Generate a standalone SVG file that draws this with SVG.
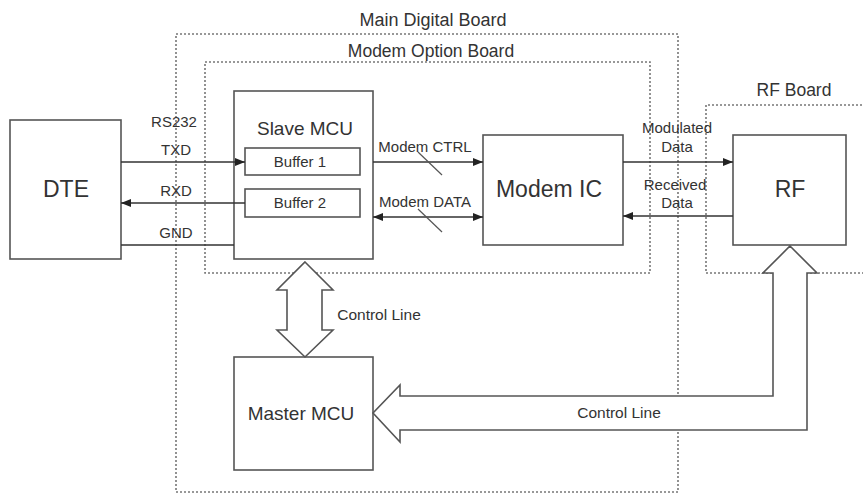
<svg xmlns="http://www.w3.org/2000/svg" width="863" height="495" viewBox="0 0 863 495">
<style>
.t{font-family:"Liberation Sans",Arial,sans-serif;fill:#333;text-anchor:middle}
.box{fill:#fff;stroke:#555;stroke-width:1.6}
.board{fill:none;stroke:#777;stroke-width:1.6;stroke-dasharray:2 2}
.ln{stroke:#333;stroke-width:1.6;fill:none}
.blk{fill:#fff;stroke:#555;stroke-width:1.6;stroke-linejoin:miter}
.sl{stroke:#555;stroke-width:1.2}
</style>
<defs>
<marker id="ah" viewBox="0 0 10 8" refX="10" refY="4" markerWidth="10" markerHeight="8" markerUnits="userSpaceOnUse" orient="auto-start-reverse">
<path d="M0,0 L10,4 L0,8 z" fill="#222"/>
</marker>
</defs>
<rect width="863" height="495" fill="#fff"/>
<g id="main-digital-board">
<rect class="board" x="176" y="34" width="502" height="458"/>
<text class="t" x="433" y="26" font-size="18">Main Digital Board</text>
</g>
<g id="modem-option-board">
<rect class="board" x="205" y="62" width="445" height="211"/>
<text class="t" x="431" y="57" font-size="17.5">Modem Option Board</text>
</g>
<g id="rf-board">
<path class="board" d="M870,105 H706 V273 H870"/>
<text class="t" x="794" y="96" font-size="17.5">RF Board</text>
</g>
<g id="dte">
<rect class="box" x="10" y="120" width="111" height="139"/>
<text class="t" x="66" y="197" font-size="23">DTE</text>
</g>
<g id="slave-mcu">
<rect class="box" x="234" y="91" width="139" height="168"/>
<text class="t" x="305" y="135" font-size="19">Slave MCU</text>
</g>
<g id="buffer1">
<rect class="box" x="245" y="148" width="115" height="27"/>
<text class="t" x="300" y="167" font-size="15">Buffer 1</text>
</g>
<g id="buffer2">
<rect class="box" x="245" y="189" width="115" height="28"/>
<text class="t" x="300" y="208" font-size="15">Buffer 2</text>
</g>
<g id="modem-ic">
<rect class="box" x="483" y="135" width="140" height="110"/>
<text class="t" x="549" y="197" font-size="23">Modem IC</text>
</g>
<g id="rf">
<rect class="box" x="733" y="135" width="113" height="110"/>
<text class="t" x="790" y="197" font-size="23">RF</text>
</g>
<g id="master-mcu">
<rect class="box" x="234" y="357" width="139" height="113"/>
<text class="t" x="301" y="420" font-size="19">Master MCU</text>
</g>
<g id="connectors">
<line class="ln" x1="121" y1="162" x2="245" y2="162" marker-end="url(#ah)"/>
<line class="ln" x1="245" y1="203" x2="121" y2="203" marker-end="url(#ah)"/>
<line class="ln" x1="121" y1="245" x2="234" y2="245"/>
<text class="t" x="174" y="127" font-size="15">RS232</text>
<text class="t" x="176" y="155" font-size="15">TXD</text>
<text class="t" x="176" y="196" font-size="15">RXD</text>
<text class="t" x="176" y="238" font-size="15">GND</text>
<line class="ln" x1="373" y1="162" x2="483" y2="162" marker-end="url(#ah)"/>
<line class="ln" x1="373" y1="217" x2="483" y2="217" marker-start="url(#ah)" marker-end="url(#ah)"/>
<line class="sl" x1="418" y1="152" x2="442" y2="175"/>
<line class="sl" x1="418" y1="209" x2="442" y2="232"/>
<text class="t" x="425" y="152" font-size="15">Modem CTRL</text>
<text class="t" x="425" y="207" font-size="15">Modem DATA</text>
<line class="ln" x1="623" y1="162" x2="733" y2="162" marker-end="url(#ah)"/>
<line class="ln" x1="733" y1="216" x2="623" y2="216" marker-end="url(#ah)"/>
<text class="t" x="677" y="133" font-size="15">Modulated</text>
<text class="t" x="677" y="152" font-size="15">Data</text>
<text class="t" x="675" y="190" font-size="15">Received</text>
<text class="t" x="677" y="208" font-size="15">Data</text>
<polygon class="blk" points="305,262 333,290 322,290 322,330 333,330 305,357 277,330 287,330 287,290 277,290"/>
<text class="t" x="379" y="320" font-size="15.5">Control Line</text>
<polygon class="blk" points="790,246 817,273 807,273 807,430 400,430 400,442 373,413 400,385 400,396 773,396 773,273 763,273"/>
<text class="t" x="619" y="418" font-size="15.5">Control Line</text>
</g>
</svg>
